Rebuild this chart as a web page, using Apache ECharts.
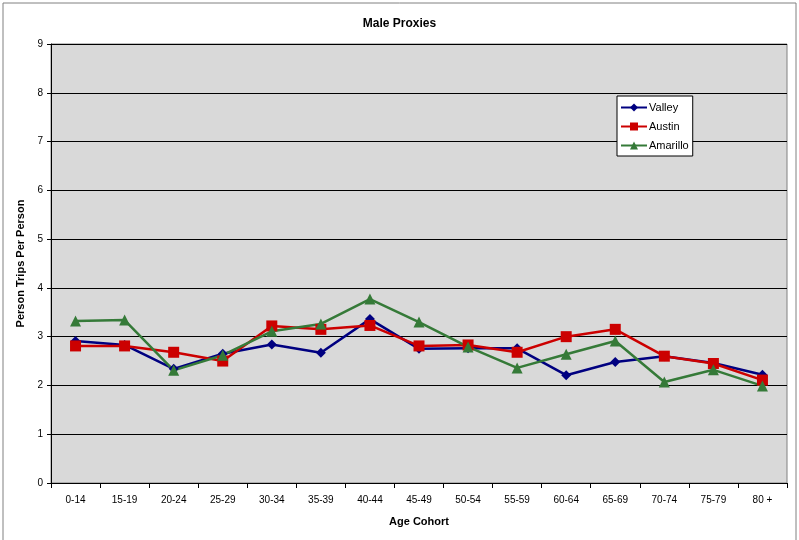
<!DOCTYPE html>
<html><head><meta charset="utf-8">
<script src="https://cdn.jsdelivr.net/npm/echarts@6/dist/echarts.min.js"></script>
<style>html,body{margin:0;padding:0;background:#fff}#c{width:799px;height:540px}</style>
</head><body><div id="c"></div>
<script>
const categories = ['0-14','15-19','20-24','25-29','30-34','35-39','40-44','45-49','50-54','55-59','60-64','65-69','70-74','75-79','80 +'];
const valley   = [2.91,2.83,2.34,2.65,2.84,2.67,3.36,2.75,2.76,2.76,2.21,2.48,2.60,2.46,2.22];
const austin   = [2.81,2.81,2.68,2.50,3.22,3.15,3.23,2.81,2.83,2.68,3.00,3.15,2.60,2.45,2.11];
const amarillo = [3.32,3.34,2.31,2.62,3.11,3.26,3.77,3.30,2.79,2.36,2.64,2.91,2.07,2.32,1.99];
const yTicks = [0,1,2,3,4,5,6,7,8,9];

const font = 'Liberation Sans, Arial, sans-serif';
const chart = echarts.init(document.getElementById('c'));
chart.setOption({
  animation:false,
  backgroundColor:'#fff',
  graphic:[{type:'rect',shape:{x:3,y:3,width:793,height:540},style:{fill:'none',stroke:'#808080',lineWidth:1},z:-1}],
  title:{text:'Male Proxies',left:'center',top:13,textStyle:{fontFamily:font,fontSize:12,fontWeight:'bold',color:'#000'}},
  grid:{left:51,right:12,top:44,bottom:57,show:true,backgroundColor:'#D9D9D9',borderColor:'#808080',borderWidth:1},
  legend:{orient:'vertical',left:617,top:96,backgroundColor:'#fff',borderColor:'#000',borderWidth:1,
    padding:[6,4,5,3],itemGap:8,itemWidth:26,itemHeight:10,
    textStyle:{fontFamily:font,fontSize:11,color:'#000',padding:[0,0,0,-3]},
    data:['Valley','Austin','Amarillo']},
  xAxis:{type:'category',data:categories,boundaryGap:true,
    name:'Age Cohort',nameLocation:'middle',nameGap:33,
    nameTextStyle:{fontFamily:font,fontSize:11,fontWeight:'bold',color:'#000'},
    axisLine:{lineStyle:{color:'#000',width:1}},
    axisTick:{show:true,alignWithLabel:false,length:5,lineStyle:{color:'#000'}},
    axisLabel:{fontFamily:font,fontSize:10,color:'#000',margin:12,interval:0}},
  yAxis:{type:'value',min:0,max:9,interval:1,
    name:'Person Trips Per Person',nameLocation:'middle',nameGap:25,
    nameTextStyle:{fontFamily:font,fontSize:11,fontWeight:'bold',color:'#000'},
    axisLine:{show:true,lineStyle:{color:'#000',width:1}},
    axisTick:{show:true,length:4,lineStyle:{color:'#000'}},
    axisLabel:{fontFamily:font,fontSize:10,color:'#000',margin:8,formatter:v=>yTicks.includes(v)?String(v):''},
    splitLine:{show:true,lineStyle:{color:'#000',width:1}}},
  series:[
    {name:'Valley',type:'line',data:valley,color:'#000080',symbol:'diamond',symbolSize:10,lineStyle:{width:2.5},itemStyle:{color:'#000080'}},
    {name:'Austin',type:'line',data:austin,color:'#CC0000',symbol:'rect',symbolSize:11,lineStyle:{width:2.5},itemStyle:{color:'#CC0000'}},
    {name:'Amarillo',type:'line',data:amarillo,color:'#357A38',symbol:'triangle',symbolSize:11,lineStyle:{width:2.5},itemStyle:{color:'#357A38'}}
  ]
});
</script></body></html>
